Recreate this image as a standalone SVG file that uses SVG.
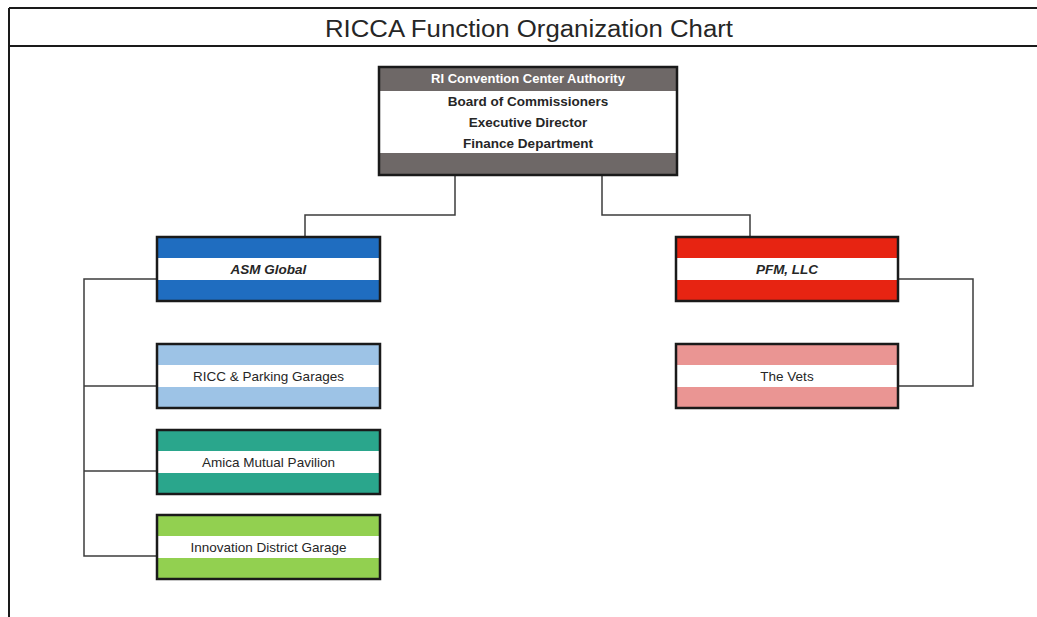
<svg xmlns="http://www.w3.org/2000/svg" width="1037" height="617" viewBox="0 0 1037 617">
<style>
.box{stroke:#1a1a1a;stroke-width:2.5;fill:none}
.conn{stroke:#3c3c3c;stroke-width:1.5;fill:none}
.t{font-family:"Liberation Sans",Arial,sans-serif;fill:#262626;text-anchor:middle}
.b{font-weight:bold}
.bi{font-weight:bold;font-style:italic}
.n{font-size:13.5px}
</style>
<rect width="1037" height="617" fill="#ffffff"/>
<g id="frame">
<line x1="9" y1="8" x2="1037" y2="8" stroke="#1a1a1a" stroke-width="2"/>
<line x1="9" y1="46" x2="1037" y2="46" stroke="#1a1a1a" stroke-width="2"/>
<line x1="9" y1="8" x2="9" y2="617" stroke="#1a1a1a" stroke-width="2"/>
<text x="529" y="37" class="t" font-size="23" textLength="408" lengthAdjust="spacingAndGlyphs">RICCA Function Organization Chart</text>
</g>
<g id="connectors">
<polyline class="conn" points="455,175 455,215 305,215 305,237"/>
<polyline class="conn" points="602,175 602,215 750,215 750,237"/>
<polyline class="conn" points="157,279 84,279 84,556 157,556"/>
<line class="conn" x1="84" y1="386" x2="157" y2="386"/>
<line class="conn" x1="84" y1="471" x2="157" y2="471"/>
<polyline class="conn" points="898,279 973,279 973,386 898,386"/>
</g>
<g id="ricca">
<rect x="379" y="67" width="298" height="108" fill="#6e6867"/>
<rect x="379" y="91" width="298" height="62" fill="#ffffff"/>
<rect class="box" x="379" y="67" width="298" height="108"/>
<text x="528" y="83" class="t b" font-size="13" style="fill:#ffffff">RI Convention Center Authority</text>
<text x="528" y="106" class="t b" font-size="13.5">Board of Commissioners</text>
<text x="528" y="127" class="t b" font-size="13.5">Executive Director</text>
<text x="528" y="148" class="t b" font-size="13.5">Finance Department</text>
</g>
<g id="asm">
<rect x="157" y="237" width="223" height="64" fill="#1f6dc0"/>
<rect x="157" y="258" width="223" height="22" fill="#ffffff"/>
<rect class="box" x="157" y="237" width="223" height="64"/>
<text x="268.5" y="274" class="t bi n">ASM Global</text>
</g>
<g id="pfm">
<rect x="676" y="237" width="222" height="64" fill="#e72412"/>
<rect x="676" y="258" width="222" height="22" fill="#ffffff"/>
<rect class="box" x="676" y="237" width="222" height="64"/>
<text x="787" y="274" class="t bi n">PFM, LLC</text>
</g>
<g id="ricc">
<rect x="157" y="344" width="223" height="64" fill="#9dc3e6"/>
<rect x="157" y="365" width="223" height="22" fill="#ffffff"/>
<rect class="box" x="157" y="344" width="223" height="64"/>
<text x="268.5" y="381" class="t n">RICC &amp; Parking Garages</text>
</g>
<g id="vets">
<rect x="676" y="344" width="222" height="64" fill="#ea9593"/>
<rect x="676" y="365" width="222" height="22" fill="#ffffff"/>
<rect class="box" x="676" y="344" width="222" height="64"/>
<text x="787" y="381" class="t n">The Vets</text>
</g>
<g id="amica">
<rect x="157" y="430" width="223" height="64" fill="#2aa68c"/>
<rect x="157" y="451" width="223" height="22" fill="#ffffff"/>
<rect class="box" x="157" y="430" width="223" height="64"/>
<text x="268.5" y="467" class="t n">Amica Mutual Pavilion</text>
</g>
<g id="innovation">
<rect x="157" y="515" width="223" height="64" fill="#92d050"/>
<rect x="157" y="536" width="223" height="22" fill="#ffffff"/>
<rect class="box" x="157" y="515" width="223" height="64"/>
<text x="268.5" y="552" class="t n">Innovation District Garage</text>
</g>
</svg>
